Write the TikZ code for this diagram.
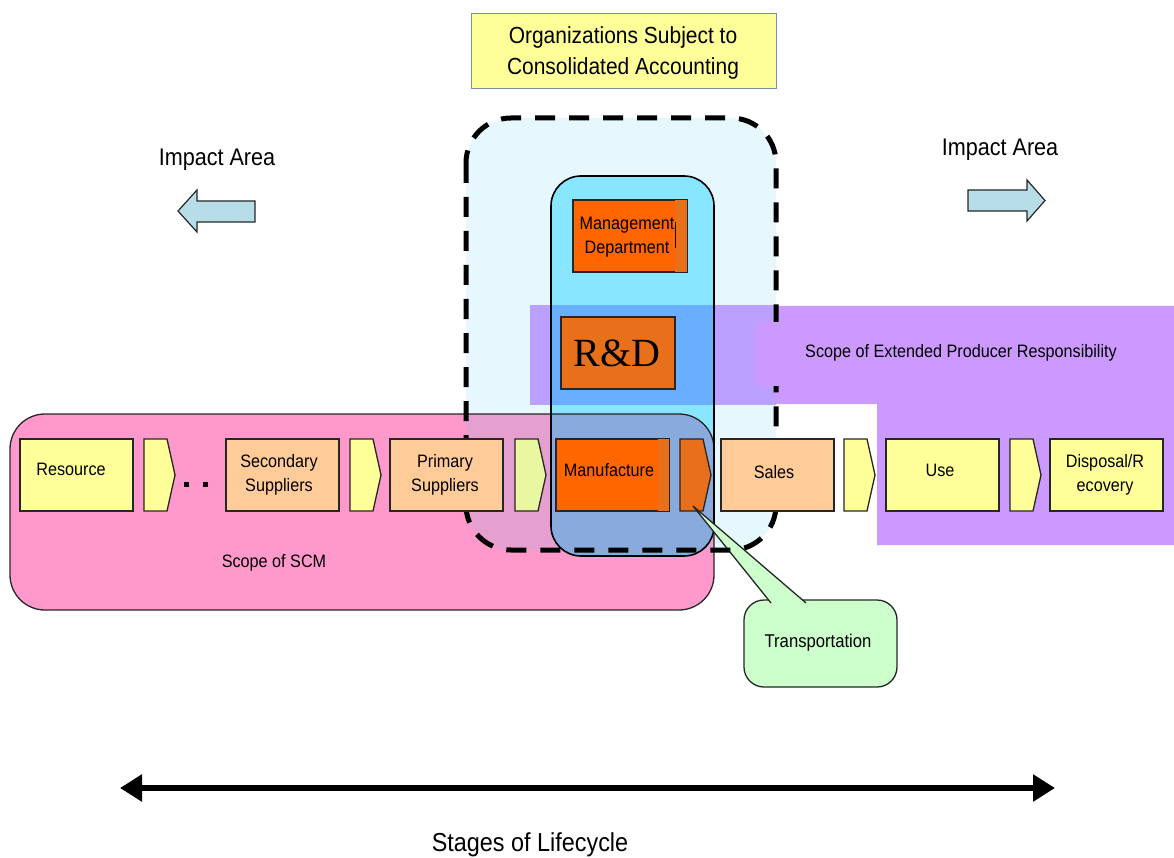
\documentclass[tikz,border=0pt]{standalone}
\usepackage{fontspec}
\setmainfont{Liberation Sans}[FakeStretch=0.9]
\newfontfamily\rdfont{Liberation Serif}
\usetikzlibrary{arrows.meta}
\definecolor{ybox}{HTML}{FFFF99}
\definecolor{pbox}{HTML}{FFCC99}
\definecolor{pinkc}{HTML}{FF99CC}
\definecolor{lcyan}{HTML}{E6F8FD}
\definecolor{cyanc}{HTML}{88E6FF}
\definecolor{purp}{HTML}{CC99FF}
\definecolor{purlc}{HTML}{BBA0FF}
\definecolor{purcy}{HTML}{6AAEFF}
\definecolor{pinklc}{HTML}{E6A0D0}
\definecolor{pinkcy}{HTML}{88AADD}
\definecolor{calg}{HTML}{CCFFCC}
\definecolor{arrc}{HTML}{B7DEE8}
\definecolor{orgA}{HTML}{FF6600}
\definecolor{orgB}{HTML}{E8701A}
\definecolor{chevg}{HTML}{E8F7A0}
\definecolor{lnc}{HTML}{262626}
\definecolor{titleb}{HTML}{7A8CB0}
\newcommand\chevron[2]{\draw[chev,fill=#2] (#1,439) -- ({#1+23},439) -- ({#1+31},475) -- ({#1+23},511) -- (#1,511) -- cycle;}
\begin{document}
\begin{tikzpicture}[x=1pt,y=-1pt,
  box/.style={draw=lnc, line width=1.3pt, minimum width=113pt, minimum height=72pt, inner sep=0pt},
  txt/.style={inner sep=0pt, align=center, font=\fontsize{18}{24}\selectfont},
  chev/.style={draw=lnc, line width=1.3pt},
  blk/.style={draw=lnc, line width=1.2pt, fill=arrc}]
\useasboundingbox (0,0) rectangle (1174,858);

% light cyan region (consolidated accounting)
\fill[lcyan, rounded corners=45] (466,118) rectangle (776,550);
% inner cyan region
\fill[cyanc, rounded corners=30] (551,176) rectangle (714,556);
% SCM scope
\fill[pinkc, rounded corners=35] (10,414) rectangle (714,610);
\begin{scope}
  \clip[rounded corners=35] (10,414) rectangle (714,610);
  \fill[pinklc, rounded corners=45] (466,118) rectangle (776,550);
  \fill[pinkcy, rounded corners=30] (551,176) rectangle (714,556);
\end{scope}
\draw[lnc, line width=1.3pt, rounded corners=35] (10,414) rectangle (714,610);
\node[txt] (scm) at (274,563) {Scope of SCM};

% EPR band
\fill[purp] (530,306) -- (1174,306) -- (1174,545) -- (877,545) -- (877,404) -- (530,404) -- cycle;
\begin{scope}
  \clip (530,306) rectangle (1174,404);
  \fill[purlc, rounded corners=45] (466,118) rectangle (776,550);
  \fill[purcy, rounded corners=30] (551,176) rectangle (714,556);
\end{scope}
\draw[black, line width=1.6pt, rounded corners=30] (551,176) rectangle (714,556);

% row of stages
\node[box, fill=ybox] (res) at (76.5,475) {};
\node[txt] at (71,469) {Resource};
\chevron{144}{ybox}
\fill[black] (184,481.5) rectangle (189,486.5);
\fill[black] (203,481.5) rectangle (208,486.5);
\node[box, fill=pbox] (sec) at (282.5,475) {};
\node[txt] at (279,475) {Secondary\\Suppliers};
\chevron{350}{ybox}
\chevron{515}{chevg}
\node[box, fill=orgA] (man) at (612.5,475) {};
\fill[orgB] (658,439) rectangle (669,511);
\draw[lnc, line width=1.3pt] (man.south west) rectangle (man.north east);
\node[txt] at (609,470) {Manufacture};
\chevron{680}{orgB}
\chevron{844}{ybox}
\node[box, fill=ybox] (use) at (942.5,475) {};
\node[txt] at (940,470) {Use};
\chevron{1010}{ybox}
\node[box, fill=ybox] (dis) at (1106.5,475) {};
\node[txt] at (1105,475) {Disposal/R\\ecovery};

% management and R&D
\node[box, fill=orgA, minimum width=114pt] (mgmt) at (630,236) {};
\fill[orgB] (675,200) rectangle (687,272);
\draw[lnc, line width=1.3pt] (mgmt.south west) rectangle (mgmt.north east);
\node[txt] at (627,237) {Management\\Department};
\draw[black, line width=0.8pt] (675,222) -- (675,248);
\node[box, fill=orgB, minimum width=114pt] (rd) at (618,353) {};
\node[inner sep=0pt, font=\rdfont\fontsize{40}{40}\selectfont, text=black] at (617,353) {R\&D};

% transportation callout
\draw[lnc, line width=1.3pt, fill=calg, rounded corners=20] (744,600) rectangle (897,687);
\coordinate (tip) at (693,506);
\filldraw[lnc, line width=1.3pt, fill=calg] (771,603) -- (tip) -- (806,603);
\node[txt, font=\fontsize{18.5}{22}\selectfont] (trans) at (818,643) {Transportation};

% dashed outline
\draw[black, line width=5pt, dash pattern=on 20pt off 14pt, rounded corners=45] (466,118) rectangle (776,550);

% boxes above the dashed line
\node[box, fill=pbox] (pri) at (446.5,475) {};
\node[txt] at (445,475) {Primary\\Suppliers};
\node[box, fill=pbox] (sal) at (777.5,475) {};
\node[txt] at (774,472) {Sales};
\fill[purp] (755,322) rectangle (1174,386);
\node[txt] (epr) at (961,353) {Scope of Extended Producer Responsibility};

% title
\node[draw=titleb, line width=1pt, fill=ybox, minimum width=305pt, minimum height=75pt] (title) at (623.5,51.5) {};
\node[inner sep=0pt, align=center, font=\fontsize{23.3}{31}\selectfont] at (623,52.5) {Organizations Subject to\\Consolidated Accounting};

% impact area
\node[inner sep=0pt, font=\fontsize{24}{28}\selectfont] (iaL) at (217,160) {Impact Area};
\node[inner sep=0pt, font=\fontsize{24}{28}\selectfont] (iaR) at (1000,150) {Impact Area};
\draw[blk] (255,201) -- (197,201) -- (197,190) -- (178,211) -- (197,232) -- (197,222) -- (255,222) -- cycle;
\draw[blk] (968,190) -- (1027,190) -- (1027,180) -- (1045,200.5) -- (1027,221) -- (1027,211) -- (968,211) -- cycle;

% lifecycle
\coordinate (la) at (120,788);
\coordinate (ra) at (1055,788);
\draw[black, line width=6pt, {Triangle[length=22pt,width=26pt]}-{Triangle[length=22pt,width=26pt]}] (la) -- (ra);
\node[inner sep=0pt, font=\fontsize{26}{30}\selectfont] (stages) at (530,845) {Stages of Lifecycle};
\end{tikzpicture}
\end{document}
